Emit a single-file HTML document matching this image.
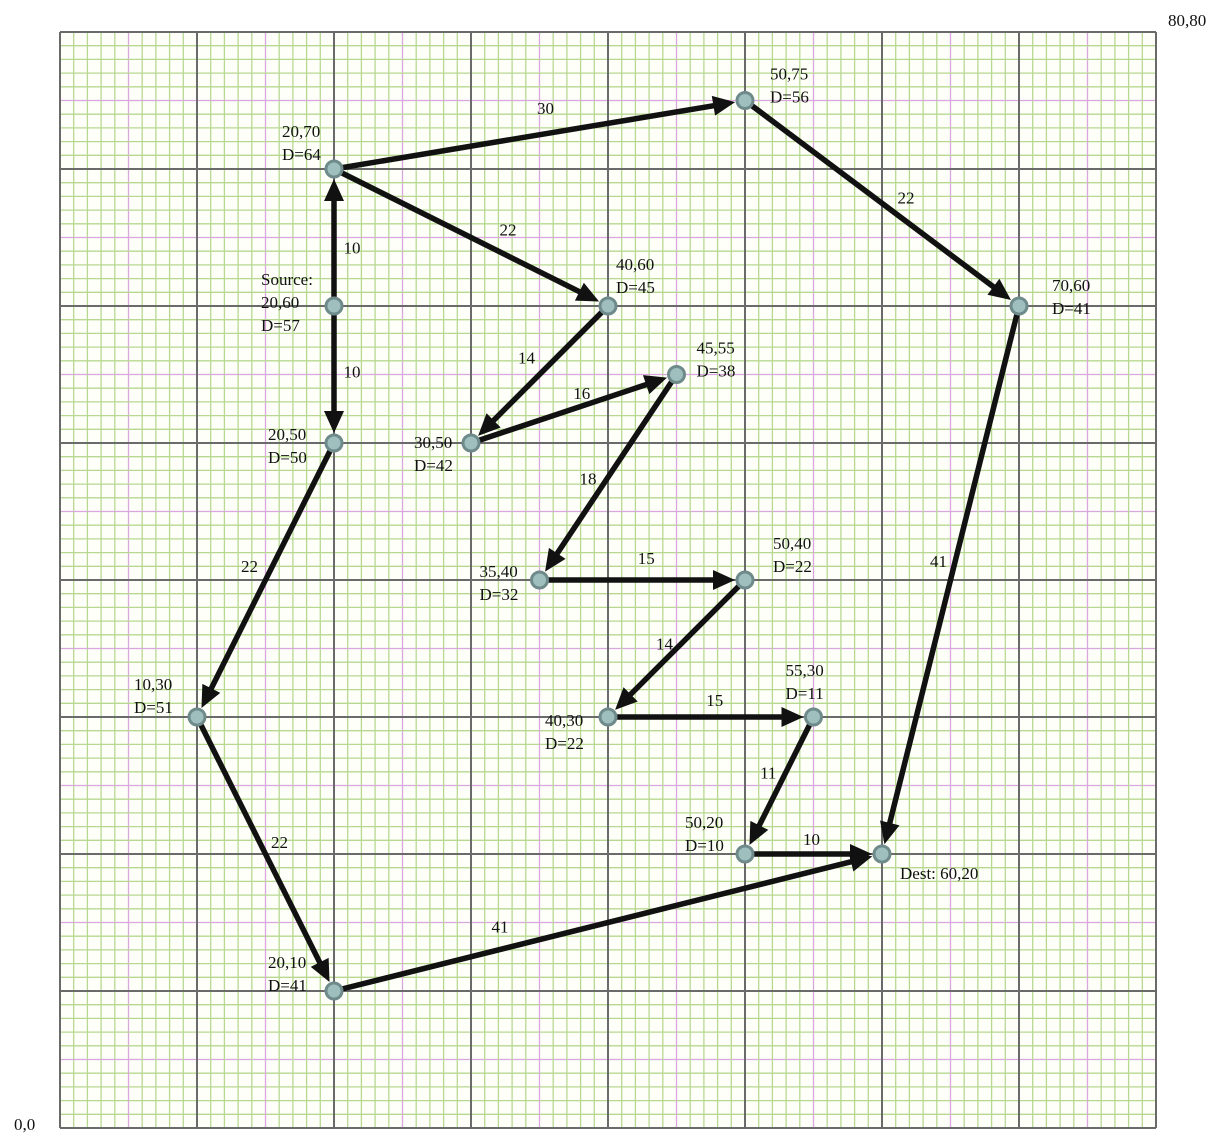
<!DOCTYPE html>
<html><head><meta charset="utf-8"><style>
html,body{margin:0;padding:0;background:#fff;}
svg{display:block;}
text{font-family:"Liberation Serif",serif;font-size:17px;fill:#111;}
</style></head><body>
<svg id="chart" width="1231" height="1148" xmlns="http://www.w3.org/2000/svg">
<g id="grid"></g>
<g id="edges"></g>
<g id="nodes"></g>
<text x="1168" y="26">80,80</text>
<text x="14" y="1130">0,0</text>
</svg>
<script>
const nodeX = [20,20,50,40,70,45,30,20,35,50,10,40,55,50,60,20];
const nodeY = [60,70,75,60,60,55,50,50,40,40,30,30,30,20,20,10];
const nodeLabels = [["Source:","20,60","D=57"],["20,70","D=64"],["50,75","D=56"],["40,60","D=45"],["70,60","D=41"],["45,55","D=38"],["30,50","D=42"],["20,50","D=50"],["35,40","D=32"],["50,40","D=22"],["10,30","D=51"],["40,30","D=22"],["55,30","D=11"],["50,20","D=10"],["Dest: 60,20"],["20,10","D=41"]];
const labelDX = [-73,-52,25,8,33,20,-57,-66,-60,28,-63,-63,-28,-60,18,-66];
const labelDY = [-27,-38,-27,-42,-21,-27,-1,-9,-9,-37,-33,3,-47,-32,19,-29];
const edgeFrom = [0,0,1,1,2,3,6,5,8,9,11,12,13,4,7,10,15];
const edgeTo   = [1,7,2,3,4,6,5,8,9,11,12,13,14,14,10,15,14];
const edgeWeights = [10,10,30,22,22,14,16,18,15,14,15,11,10,41,22,22,41];
const edgeLabelDX = [18,18,6,37,24,-13,8,-20,4,-12,4,-11,-2,-12,-16,14,-108];
const edgeLabelDY = [10,-3,-27,-8,-6,-17,-16,1,-22,-5,-17,-13,-15,-19,-14,-12,4];

const NS="http://www.w3.org/2000/svg";
const X0=60,Y0=1128,S=13.7;
const sx=v=>X0+v*S, sy=v=>Y0-v*S;
function el(t,a,p){const e=document.createElementNS(NS,t);for(const k in a)e.setAttribute(k,a[k]);p.appendChild(e);return e;}
const grid=document.getElementById('grid');
const bg=el('rect',{x:sx(0),y:sy(80),width:80*S,height:80*S,fill:'#fdfff8'},grid);


for(let i=0;i<=80;i++){
  if(i%10===0)continue;
  const c=(i%5===0)?'#d9a6dd':'#b8d892';
  el('line',{x1:sx(i),y1:sy(0),x2:sx(i),y2:sy(80),stroke:c,'stroke-width':1.3},grid);
  el('line',{x1:sx(0),y1:sy(i),x2:sx(80),y2:sy(i),stroke:c,'stroke-width':1.3},grid);
}
for(let i=0;i<=80;i+=10){
  el('line',{x1:sx(i),y1:sy(0),x2:sx(i),y2:sy(80),stroke:'#6a6a6a','stroke-width':2},grid);
  el('line',{x1:sx(0),y1:sy(i),x2:sx(80),y2:sy(i),stroke:'#6a6a6a','stroke-width':2},grid);
}
const eg=document.getElementById('edges');
for(let i=0;i<edgeFrom.length;i++){
  const a=edgeFrom[i],b=edgeTo[i];
  const x1=sx(nodeX[a]),y1=sy(nodeY[a]),x2=sx(nodeX[b]),y2=sy(nodeY[b]);
  const dx=x2-x1,dy=y2-y1,L=Math.hypot(dx,dy),ux=dx/L,uy=dy/L;
  const tx=x2-ux*10,ty=y2-uy*10,bx=tx-ux*22,by=ty-uy*22;
  const g=el('g',{},eg);
  
  
  el('line',{x1:x1,y1:y1,x2:bx+ux*2,y2:by+uy*2,stroke:'#111','stroke-width':5.5},g);
  el('polygon',{points:`${tx},${ty} ${bx-uy*10},${by+ux*10} ${bx+uy*10},${by-ux*10}`,fill:'#111'},g);
  const t=el('text',{x:(x1+x2)/2+edgeLabelDX[i],y:(y1+y2)/2+edgeLabelDY[i]+6,'text-anchor':'middle'},g);
  
  
  t.textContent=edgeWeights[i];
}
const ng=document.getElementById('nodes');
for(let i=0;i<nodeX.length;i++){
  const cx=sx(nodeX[i]),cy=sy(nodeY[i]);
  const c=el('circle',{cx:cx,cy:cy,r:8,fill:'#9fbfbf',stroke:'#6f8a8a','stroke-width':3},ng);
  
  
  const lines=nodeLabels[i];
  for(let j=0;j<lines.length;j++){
    const t=el('text',{x:cx+labelDX[i],y:cy+labelDY[i]+j*23+6},ng);
    
    
    t.textContent=lines[j];
  }
}
</script>
</body></html>
